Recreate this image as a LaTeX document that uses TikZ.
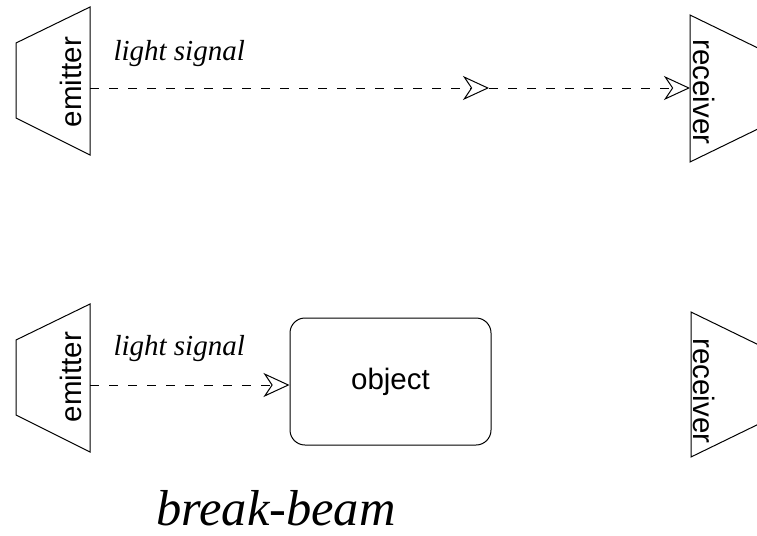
\documentclass[tikz,border=0pt]{standalone}
\usepackage{fontspec}
\newfontfamily\timesfont{Liberation Serif}
\newfontfamily\arialfont{Liberation Sans}
\usetikzlibrary{arrows.meta}
\begin{document}
\begin{tikzpicture}[x=1pt,y=-1pt, line width=1pt,
  dev/.style={draw=black, line join=miter},
  devlabel/.style={font=\arialfont\fontsize{29.5}{29.5}\selectfont, inner sep=0pt},
  sig/.style={dash pattern=on 9pt off 10pt, -{Stealth[open, length=26pt, width=24pt, inset=8pt, line width=1pt]}},
  siglabel/.style={font=\timesfont\itshape\fontsize{29}{29}\selectfont, inner sep=0pt, anchor=base west},
  objbox/.style={draw, rounded corners=15pt, minimum width=201pt, minimum height=127pt, font=\arialfont\fontsize{29.5}{29.5}\selectfont},
  titlelabel/.style={font=\timesfont\itshape\fontsize{50.5}{50.5}\selectfont, inner sep=0pt, anchor=base}
]
\useasboundingbox (0,0) rectangle (757,535);
\clip (0,0) rectangle (757,535);

% top
\draw[dev] (16,43) -- (90,7) -- (90,155) -- (16,118) -- cycle;
\node[devlabel, rotate=90, anchor=base] (em1) at (81,82) {emitter};
\draw[dev] (690,15) -- (764,51) -- (764,126) -- (690,162) -- cycle;
\node[devlabel, rotate=-90, anchor=base] (re1) at (693,92) {receiver};
\coordinate (e1) at (90,88);
\coordinate (r1) at (690,88);
\coordinate (m1) at (489,88);
\draw[sig] (e1) -- (m1);
\draw[sig] (m1) -- (r1);
\node[siglabel] (l1) at (113,60) {light signal};

% bottom
\draw[dev] (16,340) -- (90,304) -- (90,452) -- (16,415) -- cycle;
\node[devlabel, rotate=90, anchor=base] (em2) at (81,377) {emitter};
\draw[dev] (691,312) -- (765,348) -- (765,421) -- (691,457) -- cycle;
\node[devlabel, rotate=-90, anchor=base] (re2) at (693,391) {receiver};
\node[objbox] (obj) at (390.5,381.5) {object};
\coordinate (e2) at (90,385);
\draw[sig] (e2) -- (obj.west |- e2);
\node[siglabel] (l2) at (113,355) {light signal};

\node[titlelabel] (title) at (276,525) {break-beam};
\end{tikzpicture}
\end{document}
